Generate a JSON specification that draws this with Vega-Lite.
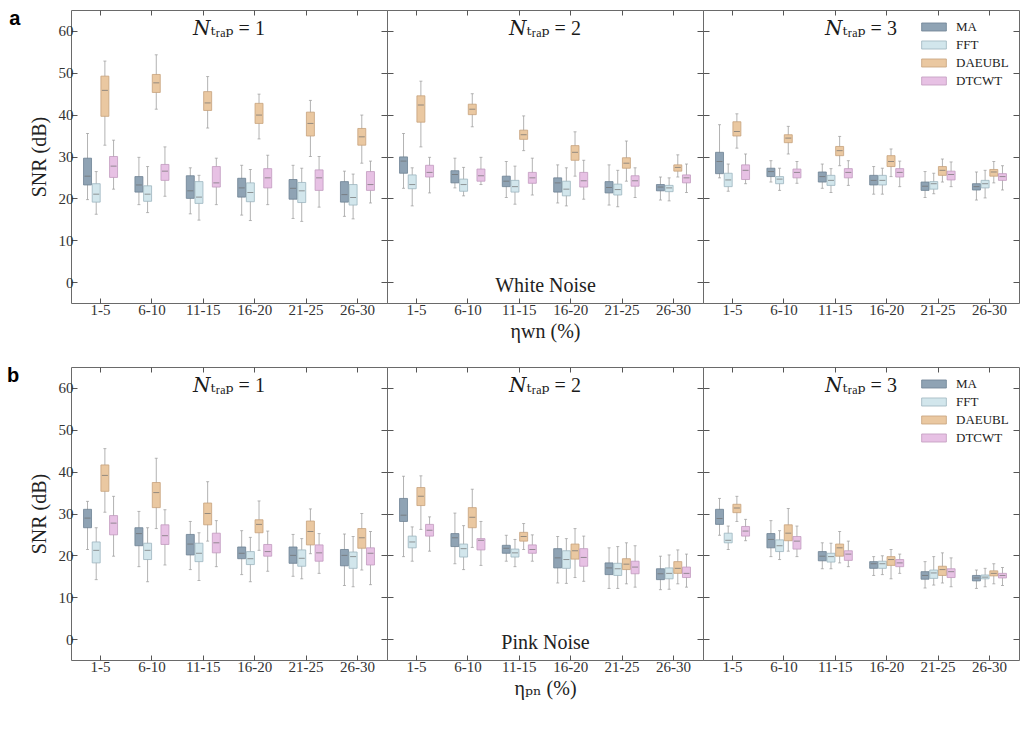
{
  "$schema": "https://vega.github.io/schema/vega-lite/v6.json",
  "background": "white",
  "padding": {"left": 7, "top": 9, "right": 2, "bottom": 5},
  "data": {"name": "s"},
  "datasets": {
    "s": [
      {"n":"W","t":1,"c":"1-5","m":"MA","lo":19.7,"q1":23.2,"md":25.3,"q3":29.6,"hi":35.5},
      {"n":"W","t":1,"c":"1-5","m":"FFT","lo":16.2,"q1":19.1,"md":21.0,"q3":23.5,"hi":26.4},
      {"n":"W","t":1,"c":"1-5","m":"DAEUBL","lo":32.7,"q1":39.6,"md":45.8,"q3":49.2,"hi":52.8},
      {"n":"W","t":1,"c":"1-5","m":"DTCWT","lo":22.2,"q1":25.0,"md":27.7,"q3":30.0,"hi":33.9},
      {"n":"W","t":1,"c":"6-10","m":"MA","lo":18.5,"q1":21.5,"md":23.2,"q3":25.2,"hi":29.8},
      {"n":"W","t":1,"c":"6-10","m":"FFT","lo":16.6,"q1":19.3,"md":21.0,"q3":23.0,"hi":27.6},
      {"n":"W","t":1,"c":"6-10","m":"DAEUBL","lo":41.3,"q1":45.3,"md":47.6,"q3":49.6,"hi":54.3},
      {"n":"W","t":1,"c":"6-10","m":"DTCWT","lo":20.5,"q1":24.3,"md":26.5,"q3":28.1,"hi":32.3},
      {"n":"W","t":1,"c":"11-15","m":"MA","lo":16.3,"q1":20.0,"md":21.8,"q3":25.4,"hi":27.3},
      {"n":"W","t":1,"c":"11-15","m":"FFT","lo":14.8,"q1":18.8,"md":20.3,"q3":24.0,"hi":25.5},
      {"n":"W","t":1,"c":"11-15","m":"DAEUBL","lo":36.8,"q1":41.0,"md":42.8,"q3":45.5,"hi":49.1},
      {"n":"W","t":1,"c":"11-15","m":"DTCWT","lo":18.5,"q1":22.7,"md":23.7,"q3":27.6,"hi":29.6},
      {"n":"W","t":1,"c":"16-20","m":"MA","lo":16.0,"q1":20.3,"md":22.5,"q3":24.8,"hi":27.9},
      {"n":"W","t":1,"c":"16-20","m":"FFT","lo":14.7,"q1":19.2,"md":21.4,"q3":23.7,"hi":26.9},
      {"n":"W","t":1,"c":"16-20","m":"DAEUBL","lo":34.2,"q1":37.9,"md":39.9,"q3":42.7,"hi":44.9},
      {"n":"W","t":1,"c":"16-20","m":"DTCWT","lo":18.5,"q1":22.5,"md":24.9,"q3":27.1,"hi":30.3},
      {"n":"W","t":1,"c":"21-25","m":"MA","lo":15.2,"q1":19.8,"md":22.4,"q3":24.5,"hi":27.9},
      {"n":"W","t":1,"c":"21-25","m":"FFT","lo":14.5,"q1":19.0,"md":21.8,"q3":23.8,"hi":27.2},
      {"n":"W","t":1,"c":"21-25","m":"DAEUBL","lo":30.0,"q1":34.9,"md":37.9,"q3":40.6,"hi":43.4},
      {"n":"W","t":1,"c":"21-25","m":"DTCWT","lo":17.9,"q1":21.9,"md":24.9,"q3":26.8,"hi":30.0},
      {"n":"W","t":1,"c":"26-30","m":"MA","lo":15.7,"q1":19.1,"md":20.9,"q3":24.0,"hi":26.5},
      {"n":"W","t":1,"c":"26-30","m":"FFT","lo":15.1,"q1":18.4,"md":20.2,"q3":23.3,"hi":25.8},
      {"n":"W","t":1,"c":"26-30","m":"DAEUBL","lo":28.4,"q1":32.7,"md":34.7,"q3":36.7,"hi":39.9},
      {"n":"W","t":1,"c":"26-30","m":"DTCWT","lo":18.9,"q1":21.9,"md":23.3,"q3":26.4,"hi":28.9},

      {"n":"W","t":2,"c":"1-5","m":"MA","lo":22.4,"q1":26.0,"md":28.9,"q3":29.9,"hi":35.5},
      {"n":"W","t":2,"c":"1-5","m":"FFT","lo":18.2,"q1":22.3,"md":23.3,"q3":25.6,"hi":27.3},
      {"n":"W","t":2,"c":"1-5","m":"DAEUBL","lo":32.3,"q1":38.2,"md":42.3,"q3":44.5,"hi":48.0},
      {"n":"W","t":2,"c":"1-5","m":"DTCWT","lo":21.3,"q1":25.1,"md":26.2,"q3":27.9,"hi":29.8},
      {"n":"W","t":2,"c":"6-10","m":"MA","lo":22.5,"q1":23.7,"md":25.7,"q3":26.6,"hi":29.6},
      {"n":"W","t":2,"c":"6-10","m":"FFT","lo":20.6,"q1":21.7,"md":23.3,"q3":24.6,"hi":27.4},
      {"n":"W","t":2,"c":"6-10","m":"DAEUBL","lo":37.1,"q1":40.0,"md":41.3,"q3":42.5,"hi":45.0},
      {"n":"W","t":2,"c":"6-10","m":"DTCWT","lo":23.3,"q1":24.1,"md":25.4,"q3":27.0,"hi":29.8},
      {"n":"W","t":2,"c":"11-15","m":"MA","lo":20.2,"q1":22.8,"md":24.1,"q3":25.3,"hi":28.8},
      {"n":"W","t":2,"c":"11-15","m":"FFT","lo":18.6,"q1":21.5,"md":22.8,"q3":24.3,"hi":27.7},
      {"n":"W","t":2,"c":"11-15","m":"DAEUBL","lo":31.4,"q1":34.1,"md":35.2,"q3":36.3,"hi":39.7},
      {"n":"W","t":2,"c":"11-15","m":"DTCWT","lo":20.8,"q1":23.6,"md":24.9,"q3":26.2,"hi":29.6},
      {"n":"W","t":2,"c":"16-20","m":"MA","lo":18.9,"q1":21.5,"md":23.7,"q3":24.9,"hi":28.0},
      {"n":"W","t":2,"c":"16-20","m":"FFT","lo":18.2,"q1":20.6,"md":22.2,"q3":24.1,"hi":27.3},
      {"n":"W","t":2,"c":"16-20","m":"DAEUBL","lo":25.3,"q1":29.1,"md":31.0,"q3":32.6,"hi":35.9},
      {"n":"W","t":2,"c":"16-20","m":"DTCWT","lo":19.8,"q1":22.7,"md":24.2,"q3":26.2,"hi":29.1},
      {"n":"W","t":2,"c":"21-25","m":"MA","lo":18.4,"q1":21.3,"md":22.6,"q3":24.0,"hi":28.0},
      {"n":"W","t":2,"c":"21-25","m":"FFT","lo":18.0,"q1":20.8,"md":22.1,"q3":23.4,"hi":26.7},
      {"n":"W","t":2,"c":"21-25","m":"DAEUBL","lo":24.1,"q1":27.2,"md":28.4,"q3":29.7,"hi":33.7},
      {"n":"W","t":2,"c":"21-25","m":"DTCWT","lo":20.2,"q1":22.9,"md":24.2,"q3":25.4,"hi":27.3},
      {"n":"W","t":2,"c":"26-30","m":"MA","lo":19.6,"q1":21.8,"md":22.7,"q3":23.3,"hi":25.1},
      {"n":"W","t":2,"c":"26-30","m":"FFT","lo":19.4,"q1":21.6,"md":22.5,"q3":23.1,"hi":24.9},
      {"n":"W","t":2,"c":"26-30","m":"DAEUBL","lo":25.1,"q1":26.5,"md":27.4,"q3":28.0,"hi":30.4},
      {"n":"W","t":2,"c":"26-30","m":"DTCWT","lo":21.4,"q1":23.7,"md":24.9,"q3":25.6,"hi":28.2},

      {"n":"W","t":3,"c":"1-5","m":"MA","lo":24.9,"q1":25.9,"md":28.8,"q3":31.0,"hi":37.6},
      {"n":"W","t":3,"c":"1-5","m":"FFT","lo":21.7,"q1":22.8,"md":24.4,"q3":26.0,"hi":28.2},
      {"n":"W","t":3,"c":"1-5","m":"DAEUBL","lo":32.0,"q1":34.9,"md":36.0,"q3":38.3,"hi":40.2},
      {"n":"W","t":3,"c":"1-5","m":"DTCWT","lo":23.5,"q1":24.5,"md":26.7,"q3":28.0,"hi":30.6},
      {"n":"W","t":3,"c":"6-10","m":"MA","lo":23.9,"q1":25.2,"md":26.4,"q3":27.2,"hi":29.0},
      {"n":"W","t":3,"c":"6-10","m":"FFT","lo":21.9,"q1":23.5,"md":24.6,"q3":25.2,"hi":27.2},
      {"n":"W","t":3,"c":"6-10","m":"DAEUBL","lo":30.6,"q1":33.3,"md":34.4,"q3":35.2,"hi":37.2},
      {"n":"W","t":3,"c":"6-10","m":"DTCWT","lo":23.6,"q1":24.9,"md":26.2,"q3":27.0,"hi":28.8},
      {"n":"W","t":3,"c":"11-15","m":"MA","lo":22.4,"q1":23.9,"md":25.2,"q3":26.3,"hi":28.2},
      {"n":"W","t":3,"c":"11-15","m":"FFT","lo":21.4,"q1":23.1,"md":24.3,"q3":25.5,"hi":27.1},
      {"n":"W","t":3,"c":"11-15","m":"DAEUBL","lo":27.8,"q1":30.2,"md":31.4,"q3":32.4,"hi":34.8},
      {"n":"W","t":3,"c":"11-15","m":"DTCWT","lo":23.1,"q1":24.9,"md":26.2,"q3":27.1,"hi":29.0},
      {"n":"W","t":3,"c":"16-20","m":"MA","lo":21.0,"q1":23.2,"md":24.3,"q3":25.5,"hi":27.6},
      {"n":"W","t":3,"c":"16-20","m":"FFT","lo":21.0,"q1":23.2,"md":24.3,"q3":25.5,"hi":27.2},
      {"n":"W","t":3,"c":"16-20","m":"DAEUBL","lo":25.2,"q1":27.6,"md":28.8,"q3":30.2,"hi":31.8},
      {"n":"W","t":3,"c":"16-20","m":"DTCWT","lo":22.8,"q1":25.1,"md":26.2,"q3":27.1,"hi":28.9},
      {"n":"W","t":3,"c":"21-25","m":"MA","lo":20.2,"q1":21.9,"md":22.9,"q3":23.9,"hi":26.4},
      {"n":"W","t":3,"c":"21-25","m":"FFT","lo":21.1,"q1":22.2,"md":23.5,"q3":24.0,"hi":26.0},
      {"n":"W","t":3,"c":"21-25","m":"DAEUBL","lo":23.9,"q1":25.5,"md":26.7,"q3":27.6,"hi":29.4},
      {"n":"W","t":3,"c":"21-25","m":"DTCWT","lo":22.8,"q1":24.4,"md":25.7,"q3":26.5,"hi":28.7},
      {"n":"W","t":3,"c":"26-30","m":"MA","lo":19.6,"q1":22.0,"md":22.8,"q3":23.5,"hi":26.3},
      {"n":"W","t":3,"c":"26-30","m":"FFT","lo":20.1,"q1":22.5,"md":23.5,"q3":24.3,"hi":26.7},
      {"n":"W","t":3,"c":"26-30","m":"DAEUBL","lo":23.7,"q1":25.3,"md":26.3,"q3":26.9,"hi":28.8},
      {"n":"W","t":3,"c":"26-30","m":"DTCWT","lo":22.0,"q1":24.3,"md":25.2,"q3":25.9,"hi":27.8},

      {"n":"P","t":1,"c":"1-5","m":"MA","lo":21.4,"q1":26.6,"md":28.9,"q3":31.0,"hi":32.9},
      {"n":"P","t":1,"c":"1-5","m":"FFT","lo":14.2,"q1":18.2,"md":21.2,"q3":23.2,"hi":26.6},
      {"n":"P","t":1,"c":"1-5","m":"DAEUBL","lo":30.3,"q1":35.3,"md":39.1,"q3":41.6,"hi":45.5},
      {"n":"P","t":1,"c":"1-5","m":"DTCWT","lo":19.8,"q1":24.9,"md":27.7,"q3":29.5,"hi":34.1},
      {"n":"P","t":1,"c":"6-10","m":"MA","lo":17.3,"q1":22.3,"md":25.2,"q3":26.6,"hi":30.5},
      {"n":"P","t":1,"c":"6-10","m":"FFT","lo":13.7,"q1":19.0,"md":21.2,"q3":22.9,"hi":26.6},
      {"n":"P","t":1,"c":"6-10","m":"DAEUBL","lo":26.4,"q1":31.4,"md":35.0,"q3":37.4,"hi":43.2},
      {"n":"P","t":1,"c":"6-10","m":"DTCWT","lo":17.7,"q1":22.6,"md":24.7,"q3":27.3,"hi":30.9},
      {"n":"P","t":1,"c":"11-15","m":"MA","lo":16.6,"q1":20.1,"md":22.7,"q3":25.0,"hi":28.1},
      {"n":"P","t":1,"c":"11-15","m":"FFT","lo":14.0,"q1":18.5,"md":20.5,"q3":22.9,"hi":25.4},
      {"n":"P","t":1,"c":"11-15","m":"DAEUBL","lo":23.4,"q1":27.3,"md":30.0,"q3":32.5,"hi":37.6},
      {"n":"P","t":1,"c":"11-15","m":"DTCWT","lo":17.3,"q1":20.6,"md":23.0,"q3":25.3,"hi":28.3},
      {"n":"P","t":1,"c":"16-20","m":"MA","lo":15.4,"q1":19.2,"md":20.5,"q3":22.0,"hi":25.9},
      {"n":"P","t":1,"c":"16-20","m":"FFT","lo":13.7,"q1":17.8,"md":19.2,"q3":20.9,"hi":24.3},
      {"n":"P","t":1,"c":"16-20","m":"DAEUBL","lo":21.2,"q1":25.4,"md":27.4,"q3":28.5,"hi":33.0},
      {"n":"P","t":1,"c":"16-20","m":"DTCWT","lo":16.2,"q1":19.8,"md":20.9,"q3":22.6,"hi":25.8},
      {"n":"P","t":1,"c":"21-25","m":"MA","lo":15.0,"q1":18.1,"md":20.0,"q3":22.0,"hi":25.0},
      {"n":"P","t":1,"c":"21-25","m":"FFT","lo":14.4,"q1":17.4,"md":19.3,"q3":21.3,"hi":24.0},
      {"n":"P","t":1,"c":"21-25","m":"DAEUBL","lo":20.4,"q1":22.5,"md":25.7,"q3":28.2,"hi":31.1},
      {"n":"P","t":1,"c":"21-25","m":"DTCWT","lo":15.7,"q1":18.6,"md":20.6,"q3":22.5,"hi":25.2},
      {"n":"P","t":1,"c":"26-30","m":"MA","lo":12.8,"q1":17.5,"md":20.0,"q3":21.4,"hi":25.1},
      {"n":"P","t":1,"c":"26-30","m":"FFT","lo":12.5,"q1":16.9,"md":19.7,"q3":20.8,"hi":24.5},
      {"n":"P","t":1,"c":"26-30","m":"DAEUBL","lo":16.5,"q1":21.7,"md":24.2,"q3":26.4,"hi":30.0},
      {"n":"P","t":1,"c":"26-30","m":"DTCWT","lo":13.0,"q1":17.7,"md":20.5,"q3":21.8,"hi":25.7},

      {"n":"P","t":2,"c":"1-5","m":"MA","lo":19.7,"q1":28.1,"md":29.6,"q3":33.6,"hi":38.9},
      {"n":"P","t":2,"c":"1-5","m":"FFT","lo":18.6,"q1":21.8,"md":23.2,"q3":24.6,"hi":26.8},
      {"n":"P","t":2,"c":"1-5","m":"DAEUBL","lo":26.2,"q1":31.9,"md":34.1,"q3":36.2,"hi":39.0},
      {"n":"P","t":2,"c":"1-5","m":"DTCWT","lo":21.0,"q1":24.6,"md":26.0,"q3":27.4,"hi":29.2},
      {"n":"P","t":2,"c":"6-10","m":"MA","lo":18.0,"q1":22.1,"md":24.2,"q3":25.2,"hi":30.1},
      {"n":"P","t":2,"c":"6-10","m":"FFT","lo":16.6,"q1":19.6,"md":21.6,"q3":22.7,"hi":27.1},
      {"n":"P","t":2,"c":"6-10","m":"DAEUBL","lo":21.9,"q1":26.6,"md":29.1,"q3":31.4,"hi":35.8},
      {"n":"P","t":2,"c":"6-10","m":"DTCWT","lo":17.6,"q1":21.3,"md":23.6,"q3":24.0,"hi":28.1},
      {"n":"P","t":2,"c":"11-15","m":"MA","lo":18.6,"q1":20.5,"md":21.7,"q3":22.4,"hi":24.8},
      {"n":"P","t":2,"c":"11-15","m":"FFT","lo":17.3,"q1":19.6,"md":20.6,"q3":21.5,"hi":23.8},
      {"n":"P","t":2,"c":"11-15","m":"DAEUBL","lo":21.4,"q1":23.4,"md":24.5,"q3":25.5,"hi":27.6},
      {"n":"P","t":2,"c":"11-15","m":"DTCWT","lo":18.6,"q1":20.5,"md":21.4,"q3":22.5,"hi":24.9},
      {"n":"P","t":2,"c":"16-20","m":"MA","lo":13.4,"q1":17.0,"md":19.4,"q3":21.6,"hi":24.5},
      {"n":"P","t":2,"c":"16-20","m":"FFT","lo":13.3,"q1":16.9,"md":19.0,"q3":21.1,"hi":24.0},
      {"n":"P","t":2,"c":"16-20","m":"DAEUBL","lo":14.7,"q1":19.1,"md":21.1,"q3":22.7,"hi":26.4},
      {"n":"P","t":2,"c":"16-20","m":"DTCWT","lo":13.8,"q1":17.4,"md":19.5,"q3":21.6,"hi":24.6},
      {"n":"P","t":2,"c":"21-25","m":"MA","lo":12.1,"q1":15.4,"md":17.0,"q3":18.2,"hi":21.8},
      {"n":"P","t":2,"c":"21-25","m":"FFT","lo":12.1,"q1":15.2,"md":16.8,"q3":18.1,"hi":22.1},
      {"n":"P","t":2,"c":"21-25","m":"DAEUBL","lo":13.2,"q1":16.6,"md":17.9,"q3":19.2,"hi":23.0},
      {"n":"P","t":2,"c":"21-25","m":"DTCWT","lo":12.4,"q1":15.6,"md":17.2,"q3":18.6,"hi":22.3},
      {"n":"P","t":2,"c":"26-30","m":"MA","lo":11.8,"q1":14.2,"md":15.6,"q3":16.8,"hi":19.8},
      {"n":"P","t":2,"c":"26-30","m":"FFT","lo":11.9,"q1":14.4,"md":15.7,"q3":17.0,"hi":20.1},
      {"n":"P","t":2,"c":"26-30","m":"DAEUBL","lo":13.2,"q1":15.7,"md":16.9,"q3":18.5,"hi":21.3},
      {"n":"P","t":2,"c":"26-30","m":"DTCWT","lo":12.4,"q1":14.7,"md":15.7,"q3":17.2,"hi":20.3},

      {"n":"P","t":3,"c":"1-5","m":"MA","lo":24.8,"q1":27.4,"md":28.8,"q3":31.0,"hi":33.6},
      {"n":"P","t":3,"c":"1-5","m":"FFT","lo":21.4,"q1":23.0,"md":23.6,"q3":25.3,"hi":27.0},
      {"n":"P","t":3,"c":"1-5","m":"DAEUBL","lo":28.1,"q1":30.2,"md":31.3,"q3":32.2,"hi":34.1},
      {"n":"P","t":3,"c":"1-5","m":"DTCWT","lo":23.5,"q1":24.6,"md":25.8,"q3":26.9,"hi":28.6},
      {"n":"P","t":3,"c":"6-10","m":"MA","lo":19.7,"q1":21.8,"md":23.8,"q3":25.2,"hi":28.3},
      {"n":"P","t":3,"c":"6-10","m":"FFT","lo":19.0,"q1":20.9,"md":22.3,"q3":23.7,"hi":25.9},
      {"n":"P","t":3,"c":"6-10","m":"DAEUBL","lo":21.0,"q1":23.5,"md":25.3,"q3":27.3,"hi":31.2},
      {"n":"P","t":3,"c":"6-10","m":"DTCWT","lo":19.7,"q1":21.5,"md":23.4,"q3":24.5,"hi":27.0},
      {"n":"P","t":3,"c":"11-15","m":"MA","lo":16.8,"q1":18.7,"md":19.8,"q3":20.9,"hi":23.0},
      {"n":"P","t":3,"c":"11-15","m":"FFT","lo":16.8,"q1":18.4,"md":19.7,"q3":20.5,"hi":22.9},
      {"n":"P","t":3,"c":"11-15","m":"DAEUBL","lo":18.2,"q1":19.8,"md":21.8,"q3":22.7,"hi":25.7},
      {"n":"P","t":3,"c":"11-15","m":"DTCWT","lo":17.3,"q1":18.8,"md":20.3,"q3":21.1,"hi":23.4},
      {"n":"P","t":3,"c":"16-20","m":"MA","lo":15.2,"q1":16.9,"md":18.0,"q3":18.5,"hi":19.7},
      {"n":"P","t":3,"c":"16-20","m":"FFT","lo":15.4,"q1":16.9,"md":18.0,"q3":18.6,"hi":19.9},
      {"n":"P","t":3,"c":"16-20","m":"DAEUBL","lo":14.4,"q1":17.6,"md":19.0,"q3":19.7,"hi":21.4},
      {"n":"P","t":3,"c":"16-20","m":"DTCWT","lo":15.7,"q1":17.3,"md":18.2,"q3":19.0,"hi":20.3},
      {"n":"P","t":3,"c":"21-25","m":"MA","lo":12.2,"q1":14.3,"md":15.2,"q3":16.1,"hi":18.5},
      {"n":"P","t":3,"c":"21-25","m":"FFT","lo":12.9,"q1":14.5,"md":15.8,"q3":16.5,"hi":19.7},
      {"n":"P","t":3,"c":"21-25","m":"DAEUBL","lo":13.4,"q1":15.2,"md":16.6,"q3":17.4,"hi":20.6},
      {"n":"P","t":3,"c":"21-25","m":"DTCWT","lo":12.5,"q1":14.7,"md":16.1,"q3":16.8,"hi":19.4},
      {"n":"P","t":3,"c":"26-30","m":"MA","lo":12.1,"q1":13.9,"md":14.6,"q3":15.2,"hi":16.5},
      {"n":"P","t":3,"c":"26-30","m":"FFT","lo":12.5,"q1":14.4,"md":14.8,"q3":15.3,"hi":16.9},
      {"n":"P","t":3,"c":"26-30","m":"DAEUBL","lo":13.2,"q1":15.1,"md":15.7,"q3":16.3,"hi":18.0},
      {"n":"P","t":3,"c":"26-30","m":"DTCWT","lo":12.8,"q1":14.6,"md":15.2,"q3":15.7,"hi":17.1}
    ]
  },
  "config": {
    "view": {"stroke": "#6a6a6a", "strokeWidth": 1},
    "axis": {"domain": false, "grid": false, "tickColor": "#555555", "tickWidth": 1, "labelFont": "Liberation Serif", "labelFontSize": 15, "labelColor": "#333333", "titleFont": "Liberation Serif, DejaVu Serif", "titleFontSize": 20, "titleFontWeight": "normal", "titleColor": "#222222"},
    "axisX": {"labelAngle": 0, "tickSize": -5, "labelPadding": 4, "titlePadding": 4},
    "axisY": {"values": [-4,-2,0,2,4,6,8,10,12,14,16,18,20,22,24,26,28,30,32,34,36,38,40,42,44,46,48,50,52,54,56,58,60,62,64], "labelExpr": "datum.value % 10 === 0 ? datum.label : ''", "tickSize": {"condition": {"test": "datum.value % 10 === 0", "value": -6}, "value": -3}, "labelPadding": 4, "titlePadding": 9},
    "title": {"font": "Liberation Serif, DejaVu Serif", "fontSize": 20, "fontWeight": "normal", "color": "#1a1a1a", "offset": -29, "baseline": "alphabetic", "anchor": "middle"},
    "legend": {"title": null, "orient": "top-right", "offset": 10, "padding": 0, "labelFont": "Liberation Serif", "labelFontSize": 13, "labelColor": "#222222", "symbolType": "M-1.9,-0.62H1.9V0.62H-1.9Z", "symbolSize": 169, "symbolStrokeWidth": 0.8, "rowPadding": 4, "labelOffset": 15}
  },
  "resolve": {"legend": {"fill": "independent", "stroke": "independent"}},
  "spacing": 24,
  "vconcat": [
    {
      "title": {"text": "a", "orient": "left", "anchor": "end", "angle": 0, "align": "right", "baseline": "top", "font": "Liberation Sans", "fontSize": 20, "fontWeight": "bold", "color": "#000000", "offset": -3},
      "spacing": 0,
      "bounds": "flush",
      "resolve": {"legend": {"fill": "independent", "stroke": "independent"}},
      "hconcat": [
        {
          "width": 316, "height": 293,
          "transform": [{"filter": "datum.n === 'W' && datum.t === 1"}],
          "title": {"text": "𝑁ₜᵣₐₚ = 1"},
          "resolve": {"axis": {"x": "independent", "y": "independent"}},
          "encoding": {
            "x": {"field": "c", "type": "ordinal", "sort": ["1-5","6-10","11-15","16-20","21-25","26-30"], "scale": {"type": "band", "paddingInner": 0, "paddingOuter": 0.075}, "axis": null},
            "xOffset": {"field": "m", "type": "nominal", "sort": ["MA","FFT","DAEUBL","DTCWT"], "scale": {"type": "band", "paddingInner": 0.08, "paddingOuter": 2}}
          },
          "layer": [
            {"mark": {"type": "rule", "color": "#b3b3b3"},
             "encoding": {
               "x": {"field": "c", "type": "ordinal", "sort": ["1-5","6-10","11-15","16-20","21-25","26-30"], "axis": {"orient": "bottom", "title": null}},
               "y": {"field": "lo", "type": "quantitative", "scale": {"domain": [-5, 65], "nice": false, "zero": false}, "axis": {"orient": "left", "title": "SNR (dB)"}},
               "y2": {"field": "hi"}}},
            {"mark": {"type": "bar", "strokeWidth": 0.8},
             "encoding": {
               "x": {"field": "c", "type": "ordinal", "sort": ["1-5","6-10","11-15","16-20","21-25","26-30"], "axis": {"orient": "top", "labels": false, "title": null}},
               "y": {"field": "q1", "type": "quantitative", "axis": {"orient": "right", "labels": false, "title": null}},
               "y2": {"field": "q3"},
               "fill": {"field": "m", "type": "nominal", "sort": ["MA","FFT","DAEUBL","DTCWT"], "scale": {"domain": ["MA","FFT","DAEUBL","DTCWT"], "range": ["#8fa3b4","#d2e6ec","#eac8a1","#e7c1e4"]}, "legend": null},
               "stroke": {"field": "m", "type": "nominal", "sort": ["MA","FFT","DAEUBL","DTCWT"], "scale": {"domain": ["MA","FFT","DAEUBL","DTCWT"], "range": ["#6d8193","#9db5bf","#c7a27c","#c29bbf"]}, "legend": null}}},
            {"mark": {"type": "tick", "color": "#6f6f6f", "thickness": 1, "size": 6},
             "encoding": {"y": {"field": "md", "type": "quantitative", "axis": null}}},
            {"mark": {"type": "tick", "color": "#9a9a9a", "thickness": 1, "size": 3},
             "encoding": {"y": {"field": "lo", "type": "quantitative", "axis": null}}},
            {"mark": {"type": "tick", "color": "#9a9a9a", "thickness": 1, "size": 3},
             "encoding": {"y": {"field": "hi", "type": "quantitative", "axis": null}}}
          ]
        },
        {
          "width": 316, "height": 293,
          "transform": [{"filter": "datum.n === 'W' && datum.t === 2"}],
          "title": {"text": "𝑁ₜᵣₐₚ = 2"},
          "resolve": {"axis": {"x": "independent", "y": "independent"}},
          "encoding": {
            "x": {"field": "c", "type": "ordinal", "sort": ["1-5","6-10","11-15","16-20","21-25","26-30"], "scale": {"type": "band", "paddingInner": 0, "paddingOuter": 0.075}, "axis": null},
            "xOffset": {"field": "m", "type": "nominal", "sort": ["MA","FFT","DAEUBL","DTCWT"], "scale": {"type": "band", "paddingInner": 0.08, "paddingOuter": 2}}
          },
          "layer": [
            {"mark": {"type": "rule", "color": "#b3b3b3"},
             "encoding": {
               "x": {"field": "c", "type": "ordinal", "sort": ["1-5","6-10","11-15","16-20","21-25","26-30"], "axis": {"orient": "bottom", "title": "ηwn (%)"}},
               "y": {"field": "lo", "type": "quantitative", "scale": {"domain": [-5, 65], "nice": false, "zero": false}, "axis": {"orient": "left", "labels": false, "title": null}},
               "y2": {"field": "hi"}}},
            {"mark": {"type": "bar", "strokeWidth": 0.8},
             "encoding": {
               "x": {"field": "c", "type": "ordinal", "sort": ["1-5","6-10","11-15","16-20","21-25","26-30"], "axis": {"orient": "top", "labels": false, "title": "White Noise", "titleY": 281, "titleBaseline": "alphabetic"}},
               "y": {"field": "q1", "type": "quantitative", "axis": {"orient": "right", "labels": false, "title": null}},
               "y2": {"field": "q3"},
               "fill": {"field": "m", "type": "nominal", "sort": ["MA","FFT","DAEUBL","DTCWT"], "scale": {"domain": ["MA","FFT","DAEUBL","DTCWT"], "range": ["#8fa3b4","#d2e6ec","#eac8a1","#e7c1e4"]}, "legend": null},
               "stroke": {"field": "m", "type": "nominal", "sort": ["MA","FFT","DAEUBL","DTCWT"], "scale": {"domain": ["MA","FFT","DAEUBL","DTCWT"], "range": ["#6d8193","#9db5bf","#c7a27c","#c29bbf"]}, "legend": null}}},
            {"mark": {"type": "tick", "color": "#6f6f6f", "thickness": 1, "size": 6},
             "encoding": {"y": {"field": "md", "type": "quantitative", "axis": null}}},
            {"mark": {"type": "tick", "color": "#9a9a9a", "thickness": 1, "size": 3},
             "encoding": {"y": {"field": "lo", "type": "quantitative", "axis": null}}},
            {"mark": {"type": "tick", "color": "#9a9a9a", "thickness": 1, "size": 3},
             "encoding": {"y": {"field": "hi", "type": "quantitative", "axis": null}}}
          ]
        },
        {
          "width": 316, "height": 293,
          "transform": [{"filter": "datum.n === 'W' && datum.t === 3"}],
          "title": {"text": "𝑁ₜᵣₐₚ = 3"},
          "resolve": {"axis": {"x": "independent", "y": "independent"}},
          "encoding": {
            "x": {"field": "c", "type": "ordinal", "sort": ["1-5","6-10","11-15","16-20","21-25","26-30"], "scale": {"type": "band", "paddingInner": 0, "paddingOuter": 0.075}, "axis": null},
            "xOffset": {"field": "m", "type": "nominal", "sort": ["MA","FFT","DAEUBL","DTCWT"], "scale": {"type": "band", "paddingInner": 0.08, "paddingOuter": 2}}
          },
          "layer": [
            {"mark": {"type": "rule", "color": "#b3b3b3"},
             "encoding": {
               "x": {"field": "c", "type": "ordinal", "sort": ["1-5","6-10","11-15","16-20","21-25","26-30"], "axis": {"orient": "bottom", "title": null}},
               "y": {"field": "lo", "type": "quantitative", "scale": {"domain": [-5, 65], "nice": false, "zero": false}, "axis": {"orient": "left", "labels": false, "title": null}},
               "y2": {"field": "hi"}}},
            {"mark": {"type": "bar", "strokeWidth": 0.8},
             "encoding": {
               "x": {"field": "c", "type": "ordinal", "sort": ["1-5","6-10","11-15","16-20","21-25","26-30"], "axis": {"orient": "top", "labels": false, "title": null}},
               "y": {"field": "q1", "type": "quantitative", "axis": {"orient": "right", "labels": false, "title": null}},
               "y2": {"field": "q3"},
               "fill": {"field": "m", "type": "nominal", "sort": ["MA","FFT","DAEUBL","DTCWT"], "scale": {"domain": ["MA","FFT","DAEUBL","DTCWT"], "range": ["#8fa3b4","#d2e6ec","#eac8a1","#e7c1e4"]}, "legend": {}},
               "stroke": {"field": "m", "type": "nominal", "sort": ["MA","FFT","DAEUBL","DTCWT"], "scale": {"domain": ["MA","FFT","DAEUBL","DTCWT"], "range": ["#6d8193","#9db5bf","#c7a27c","#c29bbf"]}, "legend": {}}}},
            {"mark": {"type": "tick", "color": "#6f6f6f", "thickness": 1, "size": 6},
             "encoding": {"y": {"field": "md", "type": "quantitative", "axis": null}}},
            {"mark": {"type": "tick", "color": "#9a9a9a", "thickness": 1, "size": 3},
             "encoding": {"y": {"field": "lo", "type": "quantitative", "axis": null}}},
            {"mark": {"type": "tick", "color": "#9a9a9a", "thickness": 1, "size": 3},
             "encoding": {"y": {"field": "hi", "type": "quantitative", "axis": null}}}
          ]
        }
      ]
    },
    {
      "title": {"text": "b", "orient": "left", "anchor": "end", "angle": 0, "align": "right", "baseline": "top", "font": "Liberation Sans", "fontSize": 20, "fontWeight": "bold", "color": "#000000", "offset": -3},
      "spacing": 0,
      "bounds": "flush",
      "resolve": {"legend": {"fill": "independent", "stroke": "independent"}},
      "hconcat": [
        {
          "width": 316, "height": 293,
          "transform": [{"filter": "datum.n === 'P' && datum.t === 1"}],
          "title": {"text": "𝑁ₜᵣₐₚ = 1"},
          "resolve": {"axis": {"x": "independent", "y": "independent"}},
          "encoding": {
            "x": {"field": "c", "type": "ordinal", "sort": ["1-5","6-10","11-15","16-20","21-25","26-30"], "scale": {"type": "band", "paddingInner": 0, "paddingOuter": 0.075}, "axis": null},
            "xOffset": {"field": "m", "type": "nominal", "sort": ["MA","FFT","DAEUBL","DTCWT"], "scale": {"type": "band", "paddingInner": 0.08, "paddingOuter": 2}}
          },
          "layer": [
            {"mark": {"type": "rule", "color": "#b3b3b3"},
             "encoding": {
               "x": {"field": "c", "type": "ordinal", "sort": ["1-5","6-10","11-15","16-20","21-25","26-30"], "axis": {"orient": "bottom", "title": null}},
               "y": {"field": "lo", "type": "quantitative", "scale": {"domain": [-5, 65], "nice": false, "zero": false}, "axis": {"orient": "left", "title": "SNR (dB)"}},
               "y2": {"field": "hi"}}},
            {"mark": {"type": "bar", "strokeWidth": 0.8},
             "encoding": {
               "x": {"field": "c", "type": "ordinal", "sort": ["1-5","6-10","11-15","16-20","21-25","26-30"], "axis": {"orient": "top", "labels": false, "title": null}},
               "y": {"field": "q1", "type": "quantitative", "axis": {"orient": "right", "labels": false, "title": null}},
               "y2": {"field": "q3"},
               "fill": {"field": "m", "type": "nominal", "sort": ["MA","FFT","DAEUBL","DTCWT"], "scale": {"domain": ["MA","FFT","DAEUBL","DTCWT"], "range": ["#8fa3b4","#d2e6ec","#eac8a1","#e7c1e4"]}, "legend": null},
               "stroke": {"field": "m", "type": "nominal", "sort": ["MA","FFT","DAEUBL","DTCWT"], "scale": {"domain": ["MA","FFT","DAEUBL","DTCWT"], "range": ["#6d8193","#9db5bf","#c7a27c","#c29bbf"]}, "legend": null}}},
            {"mark": {"type": "tick", "color": "#6f6f6f", "thickness": 1, "size": 6},
             "encoding": {"y": {"field": "md", "type": "quantitative", "axis": null}}},
            {"mark": {"type": "tick", "color": "#9a9a9a", "thickness": 1, "size": 3},
             "encoding": {"y": {"field": "lo", "type": "quantitative", "axis": null}}},
            {"mark": {"type": "tick", "color": "#9a9a9a", "thickness": 1, "size": 3},
             "encoding": {"y": {"field": "hi", "type": "quantitative", "axis": null}}}
          ]
        },
        {
          "width": 316, "height": 293,
          "transform": [{"filter": "datum.n === 'P' && datum.t === 2"}],
          "title": {"text": "𝑁ₜᵣₐₚ = 2"},
          "resolve": {"axis": {"x": "independent", "y": "independent"}},
          "encoding": {
            "x": {"field": "c", "type": "ordinal", "sort": ["1-5","6-10","11-15","16-20","21-25","26-30"], "scale": {"type": "band", "paddingInner": 0, "paddingOuter": 0.075}, "axis": null},
            "xOffset": {"field": "m", "type": "nominal", "sort": ["MA","FFT","DAEUBL","DTCWT"], "scale": {"type": "band", "paddingInner": 0.08, "paddingOuter": 2}}
          },
          "layer": [
            {"mark": {"type": "rule", "color": "#b3b3b3"},
             "encoding": {
               "x": {"field": "c", "type": "ordinal", "sort": ["1-5","6-10","11-15","16-20","21-25","26-30"], "axis": {"orient": "bottom", "title": "ηₚₙ (%)"}},
               "y": {"field": "lo", "type": "quantitative", "scale": {"domain": [-5, 65], "nice": false, "zero": false}, "axis": {"orient": "left", "labels": false, "title": null}},
               "y2": {"field": "hi"}}},
            {"mark": {"type": "bar", "strokeWidth": 0.8},
             "encoding": {
               "x": {"field": "c", "type": "ordinal", "sort": ["1-5","6-10","11-15","16-20","21-25","26-30"], "axis": {"orient": "top", "labels": false, "title": "Pink Noise", "titleY": 281, "titleBaseline": "alphabetic"}},
               "y": {"field": "q1", "type": "quantitative", "axis": {"orient": "right", "labels": false, "title": null}},
               "y2": {"field": "q3"},
               "fill": {"field": "m", "type": "nominal", "sort": ["MA","FFT","DAEUBL","DTCWT"], "scale": {"domain": ["MA","FFT","DAEUBL","DTCWT"], "range": ["#8fa3b4","#d2e6ec","#eac8a1","#e7c1e4"]}, "legend": null},
               "stroke": {"field": "m", "type": "nominal", "sort": ["MA","FFT","DAEUBL","DTCWT"], "scale": {"domain": ["MA","FFT","DAEUBL","DTCWT"], "range": ["#6d8193","#9db5bf","#c7a27c","#c29bbf"]}, "legend": null}}},
            {"mark": {"type": "tick", "color": "#6f6f6f", "thickness": 1, "size": 6},
             "encoding": {"y": {"field": "md", "type": "quantitative", "axis": null}}},
            {"mark": {"type": "tick", "color": "#9a9a9a", "thickness": 1, "size": 3},
             "encoding": {"y": {"field": "lo", "type": "quantitative", "axis": null}}},
            {"mark": {"type": "tick", "color": "#9a9a9a", "thickness": 1, "size": 3},
             "encoding": {"y": {"field": "hi", "type": "quantitative", "axis": null}}}
          ]
        },
        {
          "width": 316, "height": 293,
          "transform": [{"filter": "datum.n === 'P' && datum.t === 3"}],
          "title": {"text": "𝑁ₜᵣₐₚ = 3"},
          "resolve": {"axis": {"x": "independent", "y": "independent"}},
          "encoding": {
            "x": {"field": "c", "type": "ordinal", "sort": ["1-5","6-10","11-15","16-20","21-25","26-30"], "scale": {"type": "band", "paddingInner": 0, "paddingOuter": 0.075}, "axis": null},
            "xOffset": {"field": "m", "type": "nominal", "sort": ["MA","FFT","DAEUBL","DTCWT"], "scale": {"type": "band", "paddingInner": 0.08, "paddingOuter": 2}}
          },
          "layer": [
            {"mark": {"type": "rule", "color": "#b3b3b3"},
             "encoding": {
               "x": {"field": "c", "type": "ordinal", "sort": ["1-5","6-10","11-15","16-20","21-25","26-30"], "axis": {"orient": "bottom", "title": null}},
               "y": {"field": "lo", "type": "quantitative", "scale": {"domain": [-5, 65], "nice": false, "zero": false}, "axis": {"orient": "left", "labels": false, "title": null}},
               "y2": {"field": "hi"}}},
            {"mark": {"type": "bar", "strokeWidth": 0.8},
             "encoding": {
               "x": {"field": "c", "type": "ordinal", "sort": ["1-5","6-10","11-15","16-20","21-25","26-30"], "axis": {"orient": "top", "labels": false, "title": null}},
               "y": {"field": "q1", "type": "quantitative", "axis": {"orient": "right", "labels": false, "title": null}},
               "y2": {"field": "q3"},
               "fill": {"field": "m", "type": "nominal", "sort": ["MA","FFT","DAEUBL","DTCWT"], "scale": {"domain": ["MA","FFT","DAEUBL","DTCWT"], "range": ["#8fa3b4","#d2e6ec","#eac8a1","#e7c1e4"]}, "legend": {}},
               "stroke": {"field": "m", "type": "nominal", "sort": ["MA","FFT","DAEUBL","DTCWT"], "scale": {"domain": ["MA","FFT","DAEUBL","DTCWT"], "range": ["#6d8193","#9db5bf","#c7a27c","#c29bbf"]}, "legend": {}}}},
            {"mark": {"type": "tick", "color": "#6f6f6f", "thickness": 1, "size": 6},
             "encoding": {"y": {"field": "md", "type": "quantitative", "axis": null}}},
            {"mark": {"type": "tick", "color": "#9a9a9a", "thickness": 1, "size": 3},
             "encoding": {"y": {"field": "lo", "type": "quantitative", "axis": null}}},
            {"mark": {"type": "tick", "color": "#9a9a9a", "thickness": 1, "size": 3},
             "encoding": {"y": {"field": "hi", "type": "quantitative", "axis": null}}}
          ]
        }
      ]
    }
  ]
}
